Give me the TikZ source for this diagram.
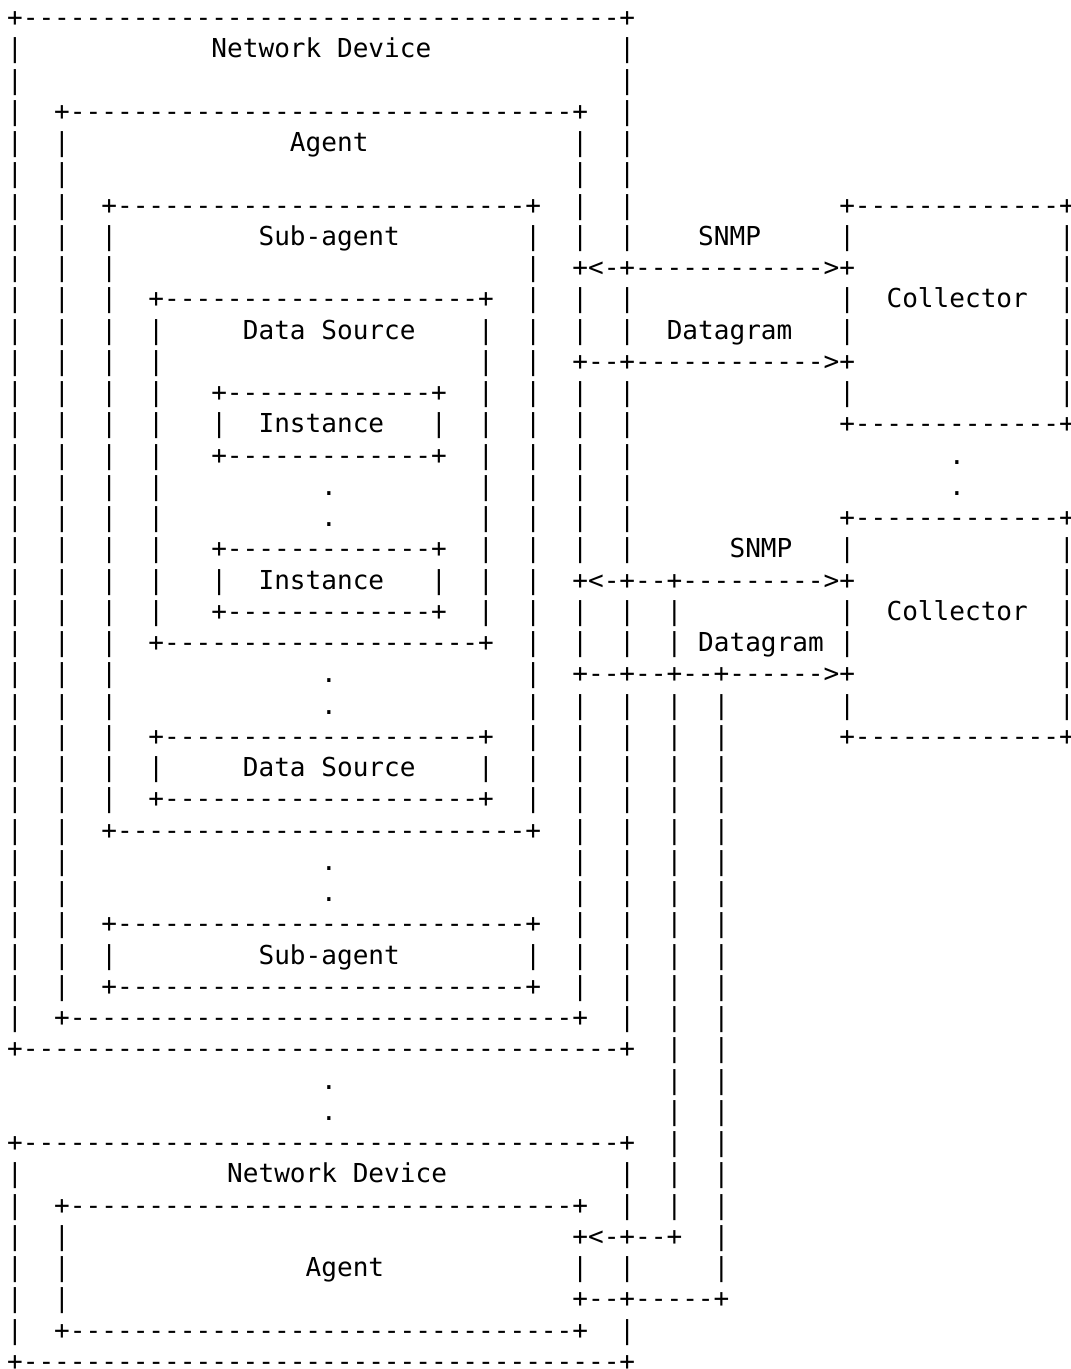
\documentclass[tikz,border=0pt]{standalone}
\usepackage{fontspec}
\setmonofont{DejaVu Sans Mono}
\newcommand\asciifont{\ttfamily\fontsize{26.08pt}{31.25pt}\selectfont}
\tikzset{
  ch/.style={font=\asciifont, inner sep=0pt, anchor=base, text=black},
  lbl/.style={font=\asciifont, inner sep=0pt, anchor=base west, text=black},
}
% row, c1, c2 : "+" at both ends, "-" between
\newcommand\ahline[3]{%
  \node[ch] at (#2,#1) {+};
  \node[ch] at (#3,#1) {+};
  \pgfmathtruncatemacro\ahA{#2+1}\pgfmathtruncatemacro\ahB{#3-1}%
  \foreach \cc in {\ahA,...,\ahB} {\node[ch] at (\cc,#1) {-};}}
% row, c1, c2 : dashes only
\newcommand\adash[3]{\foreach \cc in {#2,...,#3} {\node[ch] at (\cc,#1) {-};}}
% col, r1, r2 : vertical bars
\newcommand\avline[3]{\foreach \rr in {#2,...,#3} {\node[ch] at (#1,\rr) {|};}}
\newcommand\aplus[2]{\node[ch] at (#1,#2) {+};}
\newcommand\achar[3]{\node[ch] at (#1,#2) {#3};}
\begin{document}
\begin{tikzpicture}[x=15.7pt, y=-31.25pt]
\fill[white] (-0.9554,-0.8512) rectangle (67.261,42.957);
\useasboundingbox (-0.9554,-0.8512) rectangle (67.261,42.957);

% ---- Network Device 1
\ahline{0}{0}{39} \ahline{33}{0}{39} \avline{0}{1}{32}
\avline{39}{1}{7} \avline{39}{9}{10} \avline{39}{12}{17} \avline{39}{19}{20} \avline{39}{22}{32}
% ---- Agent 1
\ahline{3}{3}{36} \ahline{32}{3}{36} \avline{3}{4}{31}
\avline{36}{4}{7} \avline{36}{9}{10} \avline{36}{12}{17} \avline{36}{19}{20} \avline{36}{22}{31}
% ---- Sub-agent 1
\ahline{6}{6}{33} \ahline{26}{6}{33} \avline{6}{7}{25} \avline{33}{7}{25}
% ---- Data Source 1
\ahline{9}{9}{30} \ahline{20}{9}{30} \avline{9}{10}{19} \avline{30}{10}{19}
% ---- Instances
\ahline{12}{13}{27} \ahline{14}{13}{27} \avline{13}{13}{13} \avline{27}{13}{13}
\ahline{17}{13}{27} \ahline{19}{13}{27} \avline{13}{18}{18} \avline{27}{18}{18}
% ---- Data Source 2
\ahline{23}{9}{30} \ahline{25}{9}{30} \avline{9}{24}{24} \avline{30}{24}{24}
% ---- Sub-agent 2
\ahline{29}{6}{33} \ahline{31}{6}{33} \avline{6}{30}{30} \avline{33}{30}{30}
% ---- Network Device 2
\ahline{36}{0}{39} \ahline{43}{0}{39} \avline{0}{37}{42}
\avline{39}{37}{38} \avline{39}{40}{40} \avline{39}{42}{42}
% ---- Agent 2
\ahline{38}{3}{36} \ahline{42}{3}{36} \avline{3}{39}{41} \avline{36}{40}{40}
% ---- Collectors
\ahline{6}{53}{67} \ahline{13}{53}{67} \avline{67}{7}{12}
\avline{53}{7}{7} \avline{53}{9}{10} \avline{53}{12}{12}
\ahline{16}{53}{67} \ahline{23}{53}{67} \avline{67}{17}{22}
\avline{53}{17}{17} \avline{53}{19}{20} \avline{53}{22}{22}

% ---- SNMP / Datagram lines
\aplus{36}{8} \achar{37}{8}{<} \achar{38}{8}{-} \aplus{39}{8} \adash{8}{40}{51} \achar{52}{8}{>} \aplus{53}{8}
\aplus{36}{11} \adash{11}{37}{38} \aplus{39}{11} \adash{11}{40}{51} \achar{52}{11}{>} \aplus{53}{11}
\aplus{36}{18} \achar{37}{18}{<} \achar{38}{18}{-} \aplus{39}{18} \adash{18}{40}{41} \aplus{42}{18}
\adash{18}{43}{51} \achar{52}{18}{>} \aplus{53}{18}
\aplus{36}{21} \adash{21}{37}{38} \aplus{39}{21} \adash{21}{40}{41} \aplus{42}{21} \adash{21}{43}{44}
\aplus{45}{21} \adash{21}{46}{51} \achar{52}{21}{>} \aplus{53}{21}
\aplus{36}{39} \achar{37}{39}{<} \achar{38}{39}{-} \aplus{39}{39} \adash{39}{40}{41} \aplus{42}{39}
\aplus{36}{41} \adash{41}{37}{38} \aplus{39}{41} \adash{41}{40}{44} \aplus{45}{41}
\avline{42}{19}{20} \avline{42}{22}{38} \avline{45}{22}{40}

% ---- ellipsis dots
\achar{20}{15}{.} \achar{20}{16}{.}
\achar{60}{14}{.} \achar{60}{15}{.}
\achar{20}{21}{.} \achar{20}{22}{.}
\achar{20}{27}{.} \achar{20}{28}{.}
\achar{20}{34}{.} \achar{20}{35}{.}

% ---- labels
\node[lbl] (nd1) at (12.5,1) {Network Device};
\node[lbl] (ag1) at (17.5,4) {Agent};
\node[lbl] (sa1) at (15.5,7) {Sub-agent};
\node[lbl] (ds1) at (14.5,10) {Data Source};
\node[lbl] (in1) at (15.5,13) {Instance};
\node[lbl] (in2) at (15.5,18) {Instance};
\node[lbl] (ds2) at (14.5,24) {Data Source};
\node[lbl] (sa2) at (15.5,30) {Sub-agent};
\node[lbl] (nd2) at (13.5,37) {Network Device};
\node[lbl] (ag2) at (18.5,40) {Agent};
\node[lbl] (snmp1) at (43.5,7) {SNMP};
\node[lbl] (dg1) at (41.5,10) {Datagram};
\node[lbl] (snmp2) at (45.5,17) {SNMP};
\node[lbl] (dg2) at (43.5,20) {Datagram};
\node[lbl] (col1) at (55.5,9) {Collector};
\node[lbl] (col2) at (55.5,19) {Collector};
\end{tikzpicture}
\end{document}
